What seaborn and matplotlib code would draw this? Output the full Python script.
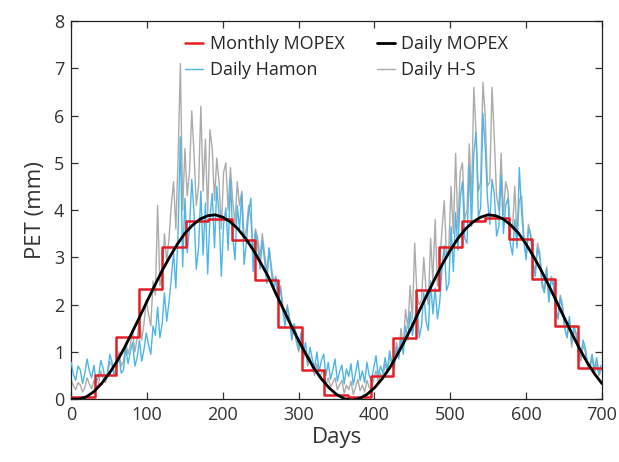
import numpy as np
import pandas as pd
import matplotlib
matplotlib.use("Agg")
import matplotlib.pyplot as plt
import seaborn as sns

# ---------------- data ----------------
month_start = [0, 31, 59, 90, 120, 151, 181, 212, 243, 273, 304, 334,
               365, 396, 424, 455, 485, 516, 546, 577, 608, 638, 669]
monthly_mopex = [0.05, 0.51, 1.32, 2.33, 3.22, 3.77, 3.82, 3.37, 2.53, 1.52, 0.61, 0.09,
                 0.05, 0.49, 1.30, 2.31, 3.21, 3.77, 3.83, 3.38, 2.55, 1.54, 0.65]

daily_mopex_days = list(range(0, 701, 10))
daily_mopex = [0.00, 0.00, 0.05, 0.16, 0.33, 0.54, 0.79, 1.08, 1.40, 1.73,
               2.07, 2.40, 2.72, 3.01, 3.28, 3.51, 3.68, 3.81, 3.88, 3.90,
               3.85, 3.75, 3.60, 3.40, 3.16, 2.88, 2.59, 2.23, 1.90, 1.56,
               1.24, 0.94, 0.66, 0.43, 0.24, 0.10, 0.01, -0.02, 0.01, 0.10,
               0.24, 0.43, 0.66, 0.94, 1.24, 1.56, 1.90, 2.23, 2.56, 2.87,
               3.15, 3.40, 3.60, 3.75, 3.85, 3.90, 3.88, 3.81, 3.68, 3.51,
               3.28, 3.01, 2.72, 2.40, 2.07, 1.73, 1.40, 1.08, 0.79, 0.54,
               0.33]

noisy_days = list(range(0, 700, 3))
daily_hamon = [
    0.78, 0.52, 0.40, 0.70, 0.62, 0.33, 0.55, 0.85, 0.60, 0.45,
    0.72, 0.35, 0.48, 0.82, 0.66, 0.40, 0.58, 0.95, 0.78, 0.50,
    0.68, 0.92, 0.55, 0.62, 1.08, 0.75, 1.00, 1.20, 0.70, 0.88,
    1.25, 0.80, 1.05, 1.40, 1.15, 0.95, 1.55, 1.35, 1.95, 1.30,
    1.60, 2.25, 1.65, 2.05, 2.55, 3.10, 2.35, 3.55, 5.55, 2.80,
    4.25, 3.10, 3.60, 4.65, 3.95, 2.75, 3.20, 4.40, 3.05, 4.15,
    2.65, 3.85, 4.35, 3.20, 4.50, 3.90, 2.60, 3.70, 4.05, 3.15,
    4.65, 3.45, 2.95, 4.10, 3.60, 4.35, 2.85, 3.30, 3.95, 4.25,
    2.70, 3.55, 3.25, 2.75, 3.35, 2.95, 2.45, 3.20, 2.70, 2.30,
    2.55, 2.05, 2.35, 1.85, 1.55, 1.95, 1.70, 1.25, 1.60, 1.35,
    1.05, 1.40, 0.95, 1.20, 0.78, 1.10, 0.85, 0.65, 1.00, 0.58,
    0.82, 0.95, 0.50, 0.78, 0.42, 0.62, 0.85, 0.38, 0.58, 0.72,
    0.32, 0.64, 0.48, 0.75, 0.30, 0.55, 0.82, 0.40, 0.60, 0.35,
    0.78, 0.50, 0.38, 0.66, 0.92, 0.48, 0.70, 0.55, 0.88, 0.62,
    1.02, 0.75, 0.68, 1.10, 0.85, 1.30, 0.95, 1.55, 1.25, 1.85,
    1.35, 1.70, 2.05, 1.30, 1.55, 2.25, 1.65, 1.45, 2.50, 1.80,
    2.35, 1.70, 2.05, 2.75, 3.25, 2.30, 2.45, 3.65, 2.70, 3.95,
    3.15, 4.25, 4.60, 3.40, 3.30, 4.95, 3.65, 5.20, 5.65, 3.85,
    4.05, 6.05, 5.35, 4.25, 3.70, 4.65, 4.35, 3.45, 3.65, 4.75,
    3.50, 4.10, 4.25, 3.30, 3.05, 3.80, 3.20, 4.90, 3.95, 3.35,
    2.95, 3.60, 3.45, 2.85, 2.60, 3.20, 3.00, 2.40, 2.25, 2.75,
    2.05, 2.55, 2.40, 1.90, 1.70, 2.15, 1.90, 1.50, 1.30, 1.75,
    1.20, 1.55, 1.40, 1.00, 0.90, 1.25, 1.10, 0.75, 0.70, 0.95,
    0.62, 0.88, 0.55, 0.72]
daily_hs = [
    0.40, 0.28, 0.20, 0.35, 0.30, 0.15, 0.25, 0.45, 0.32, 0.22,
    0.40, 0.25, 0.30, 0.60, 0.45, 0.35, 0.55, 0.80, 0.70, 0.50,
    0.75, 1.00, 0.70, 0.80, 1.20, 0.95, 1.15, 1.45, 1.00, 1.30,
    1.70, 1.25, 1.60, 2.10, 1.80, 1.55, 2.50, 2.20, 4.10, 2.40,
    2.60, 3.50, 2.90, 3.40, 4.10, 4.60, 3.60, 5.10, 7.10, 4.00,
    5.30, 4.30, 4.80, 6.10, 5.20, 4.10, 4.50, 6.20, 4.40, 5.50,
    3.90, 5.70, 5.30, 4.20, 5.10, 4.60, 3.60, 4.80, 5.00, 4.00,
    4.90, 4.20, 3.70, 4.60, 4.10, 4.40, 3.40, 3.60, 4.10, 3.80,
    3.10, 3.60, 3.40, 3.00, 3.50, 3.10, 2.70, 3.20, 2.80, 2.50,
    2.60, 2.20, 2.40, 2.00, 1.70, 2.00, 1.70, 1.30, 1.50, 1.20,
    1.00, 1.20, 0.85, 1.00, 0.70, 0.90, 0.65, 0.50, 0.75, 0.45,
    0.55, 0.60, 0.30, 0.45, 0.25, 0.35, 0.45, 0.20, 0.30, 0.40,
    0.12, 0.30, 0.20, 0.38, 0.10, 0.25, 0.42, 0.18, 0.30, 0.15,
    0.40, 0.25, 0.20, 0.42, 0.60, 0.35, 0.55, 0.45, 0.75, 0.55,
    0.95, 0.70, 0.65, 1.20, 0.95, 1.50, 1.10, 1.90, 1.50, 2.40,
    1.70, 3.30, 2.20, 2.00, 2.10, 3.00, 2.30, 2.00, 3.40, 2.50,
    3.80, 2.40, 2.80, 3.60, 4.20, 3.00, 3.20, 4.50, 3.50, 5.20,
    3.60, 4.80, 5.00, 3.80, 4.00, 5.40, 4.20, 6.60, 5.60, 4.40,
    4.60, 6.70, 6.00, 4.50, 4.60, 6.60, 5.50, 4.30, 4.00, 5.20,
    3.90, 4.60, 4.40, 3.70, 3.60, 4.50, 3.40, 4.20, 4.30, 3.40,
    3.00, 3.70, 3.50, 2.90, 2.70, 3.30, 3.10, 2.50, 2.30, 2.80,
    2.10, 2.60, 2.50, 1.90, 1.70, 2.20, 2.00, 1.50, 1.30, 1.70,
    1.10, 1.45, 1.35, 0.95, 0.80, 1.15, 1.00, 0.70, 0.65, 0.85,
    0.55, 0.75, 0.50, 0.62]

x_ticks = [0, 100, 200, 300, 400, 500, 600, 700]
y_ticks = [0, 1, 2, 3, 4, 5, 6, 7, 8]

# ---------------- style ----------------
sns.set_theme(style="ticks")
plt.rcParams["font.family"] = ["Open Sans", "DejaVu Sans"]
plt.rcParams["xtick.direction"] = "in"
plt.rcParams["ytick.direction"] = "in"

fig = plt.figure(figsize=(6.19, 4.62), dpi=100)
ax = fig.add_axes([0.115, 0.136, 0.8575, 0.8185])

XMAX = x_ticks[-1]
step_x = month_start + [XMAX]
step_y = monthly_mopex + [monthly_mopex[-1]]

df_noise = pd.DataFrame({"day": noisy_days, "hamon": daily_hamon, "hs": daily_hs})
df_mopex = pd.DataFrame({"day": daily_mopex_days, "pet": daily_mopex})
df_month = pd.DataFrame({"day": step_x, "pet": step_y})

c_red = "#e51e25"
c_blue = "#4db6e6"
c_gray = "#ababab"

sns.lineplot(data=df_noise, x="day", y="hs", ax=ax, color=c_gray, lw=1.0,
             label="Daily H-S", zorder=2)
sns.lineplot(data=df_noise, x="day", y="hamon", ax=ax, color=c_blue, lw=1.0,
             label="Daily Hamon", zorder=3)
sns.lineplot(data=df_month, x="day", y="pet", ax=ax, color=c_red, lw=1.8,
             drawstyle="steps-post", label="Monthly MOPEX", zorder=4)
sns.lineplot(data=df_mopex, x="day", y="pet", ax=ax, color="black", lw=2.0,
             label="Daily MOPEX", zorder=5)

ax.set_xlim(0, XMAX)
ax.set_ylim(y_ticks[0], y_ticks[-1])
ax.set_xticks(x_ticks)
ax.set_yticks(y_ticks)
ax.tick_params(axis="both", which="both", direction="in", top=True, right=True,
               length=5, width=0.9, labelsize=13, colors="#333333", pad=5)
for s in ax.spines.values():
    s.set_visible(True)
    s.set_linewidth(0.9)
    s.set_color("#222222")

ax.set_xlabel("Days", fontsize=16, color="#333333", labelpad=2)
ax.set_ylabel("PET (mm)", fontsize=16, color="#333333", labelpad=6)

handles, labels = ax.get_legend_handles_labels()
order = ["Monthly MOPEX", "Daily Hamon", "Daily MOPEX", "Daily H-S"]
hmap = dict(zip(labels, handles))
ax.legend([hmap[k] for k in order], order, ncol=2, frameon=False,
          loc="upper left", bbox_to_anchor=(0.215, 0.963), borderpad=0.0,
          borderaxespad=0.0, handlelength=1.0, handletextpad=0.35,
          columnspacing=1.8, labelspacing=0.45, fontsize=13)

fig.savefig("out.png", dpi=100)
